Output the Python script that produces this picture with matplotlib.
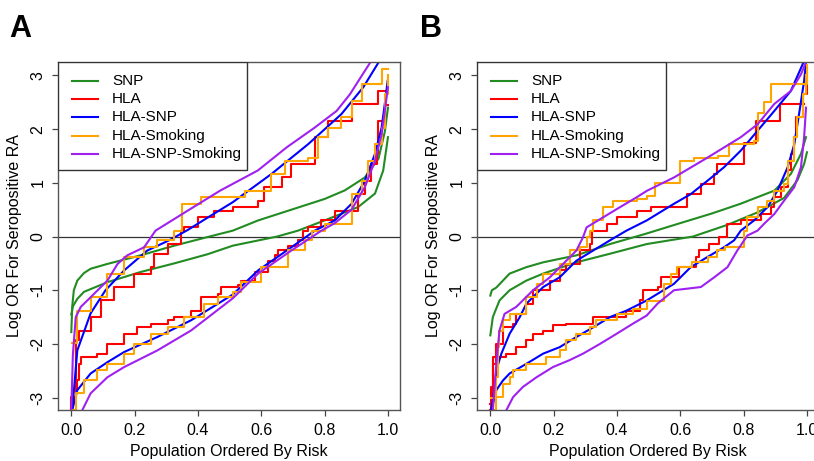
import matplotlib
matplotlib.use("Agg")
import matplotlib.pyplot as plt
from matplotlib.patches import Rectangle

plt.rcParams["font.family"] = ["Liberation Sans", "DejaVu Sans"]

labels = ["SNP", "HLA", "HLA-SNP", "HLA-Smoking", "HLA-SNP-Smoking"]
colors = ["#228B22", "#FF0000", "#0000FF", "#FFA500", "#A020F0"]
stepped = [False, True, False, True, False]

x_ticks = [0.0, 0.2, 0.4, 0.6, 0.8, 1.0]
x_tick_labels = ["0.0", "0.2", "0.4", "0.6", "0.8", "1.0"]
y_ticks = [-3, -2, -1, 0, 1, 2, 3]
y_tick_labels = ["-3", "-2", "-1", "0", "1", "2", "3"]

# ---- panel A : upper (cases) and lower (controls) curves ----
a_snp_hi_x = [0.0, 0.003, 0.008, 0.019, 0.04, 0.061, 0.114, 0.219, 0.325, 0.43, 0.51, 0.59, 0.695, 0.8, 0.864, 0.927, 0.97, 0.99, 1.0]
a_snp_hi_y = [-1.78, -1.3, -1.0, -0.82, -0.68, -0.6, -0.51, -0.35, -0.17, -0.01, 0.11, 0.3, 0.5, 0.7, 0.86, 1.1, 1.45, 1.95, 2.4]
a_snp_lo_x = [0.0, 0.005, 0.019, 0.04, 0.114, 0.219, 0.325, 0.43, 0.51, 0.65, 0.716, 0.8, 0.906, 0.959, 0.985, 1.0]
a_snp_lo_y = [-1.45, -1.3, -1.16, -1.03, -0.85, -0.66, -0.5, -0.33, -0.17, 0.0, 0.11, 0.3, 0.55, 0.8, 1.23, 1.85]

a_hla_hi_x = [0.0, 0.0, 0.014, 0.024, 0.061, 0.093, 0.135, 0.198, 0.251, 0.262, 0.304, 0.346, 0.357, 0.399, 0.451, 0.51, 0.547, 0.59, 0.61, 0.664, 0.695, 0.769, 0.811, 0.885, 0.97, 0.995]
a_hla_hi_y = [-3.23, -2.99, -1.93, -1.75, -1.5, -1.19, -0.94, -0.69, -0.57, -0.32, -0.14, 0.11, 0.17, 0.36, 0.48, 0.545, 0.545, 0.67, 0.92, 1.1, 1.35, 1.85, 2.16, 2.47, 2.71, 2.71]
a_hla_lo_x = [0.0, 0.003, 0.019, 0.024, 0.03, 0.082, 0.114, 0.167, 0.209, 0.251, 0.304, 0.325, 0.378, 0.41, 0.462, 0.472, 0.526, 0.537, 0.58, 0.621, 0.642, 0.653, 0.685, 0.716, 0.732, 0.748, 0.79, 0.832, 0.885, 0.906, 0.927, 0.948, 0.964, 0.97, 0.985, 0.99, 1.0]
a_hla_lo_y = [-3.23, -2.86, -2.68, -2.37, -2.24, -2.18, -2.0, -1.81, -1.69, -1.62, -1.56, -1.5, -1.38, -1.13, -1.07, -0.94, -0.91, -0.82, -0.66, -0.45, -0.35, -0.26, -0.17, -0.07, 0.11, 0.17, 0.3, 0.48, 0.48, 0.79, 1.04, 1.35, 1.54, 2.16, 2.16, 2.45, 2.45]

a_hlasnp_hi_x = [0.003, 0.019, 0.061, 0.108, 0.167, 0.24, 0.309, 0.367, 0.43, 0.51, 0.632, 0.748, 0.853, 0.922, 0.971]
a_hlasnp_hi_y = [-3.23, -2.12, -1.43, -1.0, -0.63, -0.26, -0.07, 0.12, 0.35, 0.64, 1.165, 1.72, 2.28, 2.78, 3.25]
a_hlasnp_lo_x = [0.003, 0.019, 0.061, 0.114, 0.167, 0.272, 0.378, 0.51, 0.59, 0.695, 0.769, 0.832, 0.885, 0.927, 0.959, 0.98, 0.99, 0.999]
a_hlasnp_lo_y = [-3.23, -2.86, -2.55, -2.34, -2.15, -1.87, -1.56, -1.08, -0.63, -0.2, 0.11, 0.3, 0.61, 1.04, 1.54, 2.03, 2.47, 2.9]

a_hlasmk_hi_x = [0.003, 0.019, 0.061, 0.114, 0.167, 0.23, 0.272, 0.325, 0.351, 0.41, 0.51, 0.547, 0.632, 0.674, 0.748, 0.78, 0.811, 0.853, 0.885, 0.917, 0.959, 0.98, 0.999]
a_hlasmk_hi_y = [-1.99, -1.38, -1.13, -0.69, -0.38, -0.2, -0.07, 0.11, 0.61, 0.73, 0.73, 0.855, 1.165, 1.41, 1.47, 1.85, 2.03, 2.22, 2.53, 2.84, 2.84, 3.12, 3.12]
a_hlasmk_lo_x = [0.003, 0.014, 0.04, 0.082, 0.114, 0.167, 0.198, 0.251, 0.304, 0.357, 0.42, 0.462, 0.51, 0.537, 0.6, 0.685, 0.737, 0.759, 0.8, 0.885, 0.917, 0.938, 0.959, 0.98, 0.99, 0.999]
a_hlasmk_lo_y = [-3.23, -2.92, -2.68, -2.49, -2.37, -2.18, -2.0, -1.81, -1.69, -1.5, -1.25, -1.13, -1.03, -0.85, -0.57, -0.26, -0.07, 0.11, 0.24, 0.79, 1.04, 1.41, 1.72, 2.03, 2.65, 3.0]

a_all_hi_x = [0.0, 0.005, 0.014, 0.03, 0.061, 0.114, 0.146, 0.177, 0.23, 0.266, 0.367, 0.47, 0.589, 0.68, 0.769, 0.838, 0.88, 0.92, 0.945]
a_all_hi_y = [-3.23, -2.2, -1.5, -1.31, -1.13, -0.82, -0.51, -0.35, -0.2, 0.11, 0.48, 0.855, 1.23, 1.66, 2.03, 2.34, 2.65, 3.02, 3.25]
a_all_lo_x = [0.035, 0.061, 0.114, 0.167, 0.272, 0.378, 0.51, 0.59, 0.695, 0.79, 0.832, 0.885, 0.927, 0.959, 0.98, 0.99, 1.0]
a_all_lo_y = [-3.23, -2.92, -2.62, -2.43, -2.12, -1.75, -1.15, -0.69, -0.26, 0.11, 0.25, 0.5, 0.92, 1.41, 1.91, 2.34, 2.78]

# ---- panel B ----
b_snp_hi_x = [0.0, 0.005, 0.019, 0.061, 0.114, 0.167, 0.272, 0.378, 0.49, 0.6, 0.7, 0.79, 0.897, 0.949, 0.981, 0.997]
b_snp_hi_y = [-1.1, -1.0, -0.95, -0.69, -0.57, -0.48, -0.35, -0.14, 0.05, 0.25, 0.43, 0.61, 0.855, 1.165, 1.54, 1.85]
b_snp_lo_x = [0.0, 0.008, 0.029, 0.061, 0.114, 0.167, 0.272, 0.378, 0.494, 0.64, 0.75, 0.844, 0.928, 0.97, 0.991, 1.0]
b_snp_lo_y = [-1.84, -1.5, -1.19, -1.0, -0.82, -0.69, -0.48, -0.32, -0.14, 0.0, 0.22, 0.45, 0.72, 1.05, 1.35, 1.57]

b_hla_hi_x = [0.0, 0.008, 0.019, 0.04, 0.072, 0.082, 0.114, 0.135, 0.188, 0.219, 0.24, 0.283, 0.314, 0.32, 0.367, 0.399, 0.462, 0.506, 0.58, 0.622, 0.665, 0.707, 0.717, 0.79, 0.8, 0.833, 0.84, 0.907, 0.915, 0.99]
b_hla_hi_y = [-3.11, -2.24, -2.0, -1.69, -1.62, -1.44, -1.25, -1.0, -0.82, -0.63, -0.51, -0.26, -0.14, 0.11, 0.24, 0.36, 0.48, 0.545, 0.545, 0.79, 0.98, 1.165, 1.35, 1.35, 1.75, 1.75, 2.16, 2.16, 2.47, 2.47]
b_hla_lo_x = [0.0, 0.003, 0.008, 0.019, 0.051, 0.082, 0.114, 0.135, 0.167, 0.198, 0.24, 0.314, 0.325, 0.42, 0.43, 0.472, 0.483, 0.528, 0.538, 0.595, 0.637, 0.648, 0.658, 0.69, 0.722, 0.749, 0.791, 0.854, 0.886, 0.897, 0.918, 0.939, 0.949, 0.96, 0.965, 0.986, 1.0]
b_hla_lo_y = [-3.23, -2.8, -2.37, -2.24, -2.18, -2.06, -1.93, -1.81, -1.75, -1.65, -1.62, -1.62, -1.5, -1.5, -1.38, -1.19, -1.0, -0.94, -0.76, -0.57, -0.57, -0.38, -0.26, -0.14, -0.01, 0.24, 0.3, 0.42, 0.545, 0.73, 0.92, 1.23, 1.54, 1.85, 2.22, 2.65, 3.1]

b_hlasnp_hi_x = [0.003, 0.014, 0.019, 0.035, 0.061, 0.093, 0.114, 0.167, 0.219, 0.272, 0.325, 0.378, 0.43, 0.494, 0.58, 0.633, 0.686, 0.738, 0.791, 0.844, 0.897, 0.949, 0.991]
b_hlasnp_hi_y = [-3.23, -2.8, -2.49, -2.18, -1.81, -1.5, -1.25, -0.94, -0.76, -0.45, -0.26, -0.07, 0.11, 0.3, 0.61, 0.79, 1.04, 1.29, 1.6, 1.97, 2.34, 2.71, 3.27]
b_hlasnp_lo_x = [0.003, 0.019, 0.04, 0.061, 0.114, 0.167, 0.219, 0.272, 0.325, 0.378, 0.43, 0.494, 0.58, 0.633, 0.686, 0.738, 0.77, 0.791, 0.833, 0.875, 0.907, 0.939, 0.96, 0.975, 0.991, 0.997]
b_hlasnp_lo_y = [-3.23, -2.86, -2.68, -2.55, -2.37, -2.18, -2.06, -1.87, -1.69, -1.5, -1.38, -1.19, -0.88, -0.57, -0.38, -0.2, -0.07, 0.11, 0.3, 0.545, 0.855, 1.29, 1.72, 2.28, 2.9, 3.25]

b_hlasmk_hi_x = [0.003, 0.019, 0.024, 0.029, 0.04, 0.061, 0.114, 0.146, 0.167, 0.219, 0.251, 0.283, 0.304, 0.314, 0.325, 0.357, 0.388, 0.462, 0.494, 0.52, 0.6, 0.643, 0.72, 0.755, 0.833, 0.844, 0.865, 0.886, 0.991, 1.0]
b_hlasmk_hi_y = [-3.0, -2.62, -2.06, -1.75, -1.56, -1.44, -1.13, -0.88, -0.69, -0.51, -0.26, -0.2, -0.01, 0.11, 0.3, 0.545, 0.67, 0.7, 0.76, 1.0, 1.41, 1.47, 1.5, 1.72, 1.78, 2.3, 2.5, 2.84, 2.84, 3.2]
b_hlasmk_lo_x = [0.008, 0.019, 0.04, 0.061, 0.072, 0.114, 0.177, 0.219, 0.24, 0.272, 0.314, 0.335, 0.399, 0.451, 0.494, 0.549, 0.57, 0.59, 0.637, 0.686, 0.717, 0.74, 0.791, 0.8, 0.812, 0.844, 0.875, 0.897, 0.928, 0.939, 0.96, 0.97, 0.986, 0.997]
b_hlasmk_lo_y = [-3.23, -2.99, -2.74, -2.62, -2.49, -2.37, -2.24, -2.12, -1.93, -1.81, -1.69, -1.56, -1.44, -1.34, -1.2, -0.88, -0.69, -0.57, -0.48, -0.38, -0.26, -0.2, -0.2, 0.11, 0.36, 0.545, 0.67, 0.855, 0.98, 1.41, 1.85, 2.22, 2.65, 3.0]

b_all_hi_x = [0.008, 0.019, 0.029, 0.045, 0.082, 0.135, 0.188, 0.23, 0.272, 0.293, 0.304, 0.357, 0.409, 0.462, 0.494, 0.58, 0.686, 0.791, 0.844, 0.897, 0.949, 0.981, 0.997]
b_all_hi_y = [-3.23, -2.37, -1.75, -1.44, -1.31, -1.0, -0.76, -0.51, -0.26, -0.01, 0.17, 0.36, 0.545, 0.73, 0.85, 1.1, 1.47, 1.85, 2.09, 2.47, 2.71, 3.02, 3.25]
b_all_lo_x = [0.051, 0.072, 0.103, 0.146, 0.198, 0.251, 0.293, 0.346, 0.399, 0.451, 0.494, 0.528, 0.58, 0.665, 0.707, 0.749, 0.78, 0.812, 0.844, 0.865, 0.897, 0.928, 0.96, 0.981, 0.991, 0.997]
b_all_lo_y = [-3.23, -2.99, -2.8, -2.62, -2.43, -2.3, -2.18, -2.0, -1.81, -1.62, -1.47, -1.25, -1.0, -0.94, -0.76, -0.57, -0.26, 0.02, 0.11, 0.24, 0.42, 0.67, 0.92, 1.29, 1.85, 2.4]

panel_a = [
    (a_snp_hi_x, a_snp_hi_y, a_snp_lo_x, a_snp_lo_y),
    (a_hla_hi_x, a_hla_hi_y, a_hla_lo_x, a_hla_lo_y),
    (a_hlasnp_hi_x, a_hlasnp_hi_y, a_hlasnp_lo_x, a_hlasnp_lo_y),
    (a_hlasmk_hi_x, a_hlasmk_hi_y, a_hlasmk_lo_x, a_hlasmk_lo_y),
    (a_all_hi_x, a_all_hi_y, a_all_lo_x, a_all_lo_y),
]
panel_b = [
    (b_snp_hi_x, b_snp_hi_y, b_snp_lo_x, b_snp_lo_y),
    (b_hla_hi_x, b_hla_hi_y, b_hla_lo_x, b_hla_lo_y),
    (b_hlasnp_hi_x, b_hlasnp_hi_y, b_hlasnp_lo_x, b_hlasnp_lo_y),
    (b_hlasmk_hi_x, b_hlasmk_hi_y, b_hlasmk_lo_x, b_hlasmk_lo_y),
    (b_all_hi_x, b_all_hi_y, b_all_lo_x, b_all_lo_y),
]

W, H = 814, 461
fig = plt.figure(figsize=(W / 100, H / 100), dpi=100)


def draw_panel(ax, curves):
    for (hx, hy, lx, ly), col, st in zip(curves, colors, stepped):
        ds = "steps-post" if st else "default"
        ax.plot(hx, hy, color=col, lw=1.5, drawstyle=ds)
        ax.plot(lx, ly, color=col, lw=1.5, drawstyle=ds)
    ax.axhline(0, color="#333333", lw=0.9, zorder=1)
    ax.set_xlim(-0.042, 1.038)
    ax.set_ylim(-3.23, 3.25)
    ax.set_xticks(x_ticks)
    ax.set_xticklabels(x_tick_labels)
    ax.set_yticks(y_ticks)
    ax.set_yticklabels(y_tick_labels, rotation=90, va="center")
    ax.tick_params(length=4, width=0.9, color="#444444", labelsize=11.5, pad=5)
    for s in ax.spines.values():
        s.set_color("#555555")
        s.set_linewidth(1.0)
    ax.set_xlabel("Population Ordered By Risk", fontsize=11.5, va="center")
    ax.xaxis.set_label_coords(0.5, -0.12)
    ax.set_ylabel("Log OR For Seropositive RA", fontsize=11.5, va="center")
    ax.yaxis.set_label_coords(-0.126, 0.5)

    # legend box in the top-left corner
    ax.add_patch(Rectangle((0, 0.69), 0.553, 0.31, transform=ax.transAxes,
                           facecolor="white", edgecolor="#333333", lw=1.0, zorder=5))
    rows = [0.945, 0.893, 0.841, 0.787, 0.735]
    for lab, col, yy in zip(labels, colors, rows):
        ax.plot([0.041, 0.117], [yy, yy], color=col, lw=1.5,
                transform=ax.transAxes, zorder=6)
        ax.text(0.158, yy, lab, transform=ax.transAxes, fontsize=11,
                va="center", ha="left", zorder=6)


axA = fig.add_axes([58 / W, 51 / H, 342 / W, 348 / H])
draw_panel(axA, panel_a)
axB = fig.add_axes([477 / W, 51 / H, 342 / W, 348 / H])
draw_panel(axB, panel_b)

fig.text(9 / W, 1 - 37 / H, "A", fontsize=22, fontweight="bold", va="baseline", ha="left")
fig.text(420 / W, 1 - 37 / H, "B", fontsize=22, fontweight="bold", va="baseline", ha="left")

fig.savefig("out.png", dpi=100)
